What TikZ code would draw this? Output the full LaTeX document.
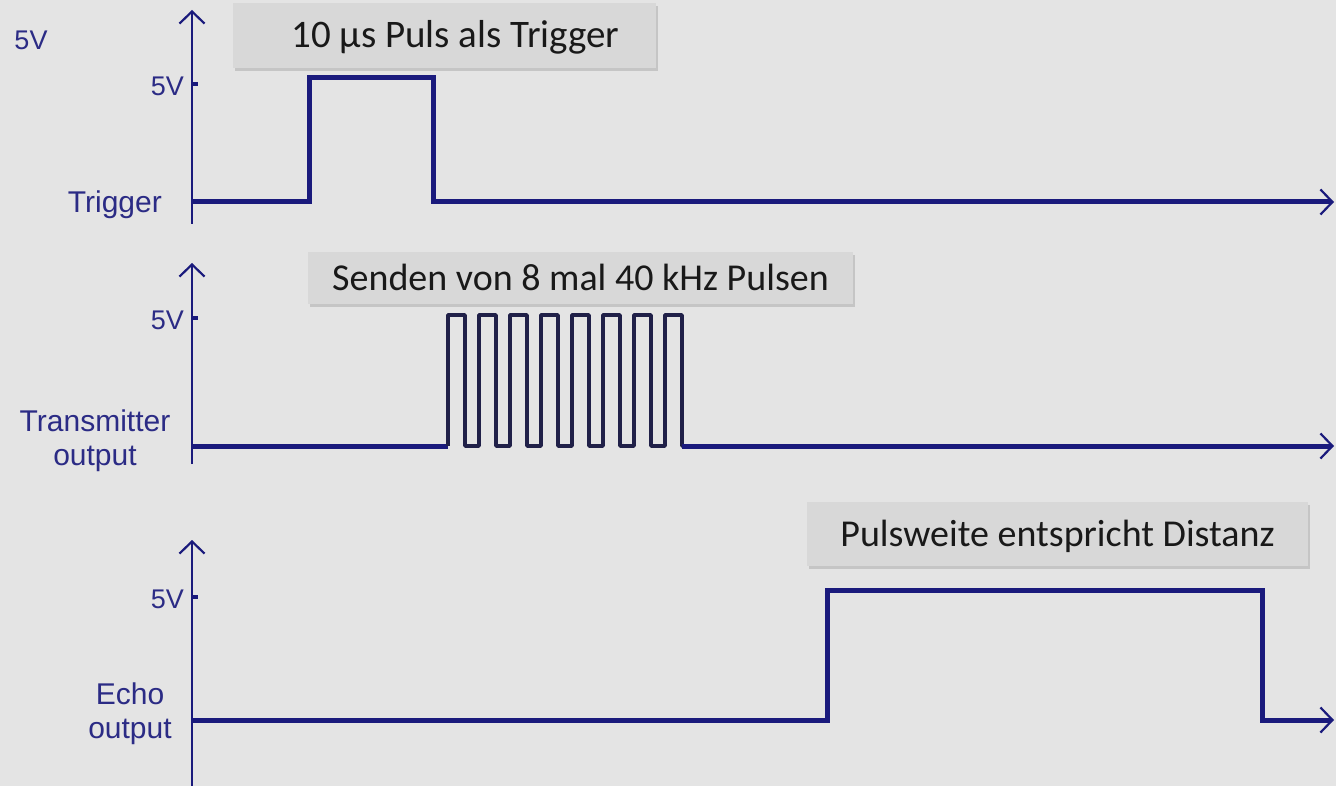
\documentclass[tikz,border=0pt]{standalone}
\usepackage{fontspec}
\setmainfont{Liberation Sans}
\newfontfamily\calloutfont{Carlito}
\usepackage{tikz}
\usetikzlibrary{positioning,calc,arrows.meta,shadows}

\definecolor{bggray}{HTML}{E4E4E4}
\definecolor{boxgray}{HTML}{D8D8D8}
\definecolor{signavy}{HTML}{1A1A7C}
\definecolor{burstnavy}{HTML}{202048}
\definecolor{lblblue}{HTML}{2B2B85}

\begin{document}
\begin{tikzpicture}[x=1pt, y=-1pt, >={Straight Barb[length=12pt, width=25pt, line width=2.2pt]}, axis/.style = {->, draw=signavy, line width=2.2pt}, level/.style = {draw=signavy, line width=5pt, line join=miter}, burst/.style = {draw=burstnavy, line width=3.6pt, line join=round}, tickmark/.style = {draw=signavy, line width=4pt}, siglabel/.style = {text=lblblue, align=center, inner sep=0pt, font=\fontsize{30}{34}\selectfont}, volt/.style = {text=lblblue, inner sep=0pt, font=\fontsize{27}{27}\selectfont}, callout/.style = {fill=boxgray, text=black!90, inner sep=0pt, text height=24.5pt, text depth=0pt, font=\calloutfont\fontsize{38}{40}\selectfont, drop shadow={shadow xshift=2pt, shadow yshift=-3pt, opacity=0.3}}]

\useasboundingbox (0,0) rectangle (1336,786);
\fill[bggray] (0,0) rectangle (1336,786);

\node[volt] (top5v) at (31,40) {5V};

% Trigger
\coordinate (trigtop) at (192,10);
\coordinate (trigbot) at (192,224);
\coordinate (trig0) at (192,202);
\coordinate (trigend) at (1334,202);
\coordinate (trigtick) at (192,84);
\draw[axis] (trigbot) -- (trigtop);
\draw[tickmark] (trigtick) -- ++(6,0);
\draw[level, ->] (trig0) -| (309,78) -| (433,202) -- (trigend);
\node[volt, left=8pt of trigtick, yshift=-2.5pt] (trig5v) {5V};
\node[siglabel, anchor=base east] (trig) at (162,213) {Trigger};
\node[callout, minimum width=423pt, minimum height=65pt] (pulsbox) at (444.5,35.5) {\hspace*{22pt}\fontsize{39}{40}\selectfont 10 µs Puls als Trigger};

% Transmitter
\coordinate (txtop) at (192,263);
\coordinate (txbot) at (192,464);
\coordinate (tx0) at (192,446);
\coordinate (txend) at (1334,446);
\coordinate (txtick) at (192,318);
\draw[axis] (txbot) -- (txtop);
\draw[tickmark] (txtick) -- ++(6,0);
\draw[level] (tx0) -- (448,446);
\draw[burst] (448,446) \foreach \k in {0,...,7} { -- (448+31*\k,315) -- (465+31*\k,315) -- (465+31*\k,446) -- (479+31*\k,446) };
\draw[level, ->] (682,446) -- (txend);
\node[volt, left=8pt of txtick, yshift=-2.5pt] (tx5v) {5V};
\node[siglabel] (tx) at (95,441) {Transmitter\\output};
\node[callout, minimum width=545pt, minimum height=52pt] (sendbox) at (580.5,278) {Senden von 8 mal 40 kHz Pulsen};

% Echo
\coordinate (echotop) at (192,540);
\coordinate (echobot) at (192,786);
\coordinate (echo0) at (192,720);
\coordinate (echoend) at (1334,720);
\coordinate (echotick) at (192,597);
\draw[axis] (echobot) -- (echotop);
\draw[tickmark] (echotick) -- ++(6,0);
\draw[level, ->] (echo0) -| (827,590) -| (1262,720) -- (echoend);
\node[volt, left=8pt of echotick, yshift=-2.5pt] (echo5v) {5V};
\node[siglabel] (echo) at (130,714) {Echo\\output};
\node[callout, minimum width=501pt, minimum height=64pt] (weitebox) at (1057.5,534) {Pulsweite entspricht Distanz};
\end{tikzpicture}
\end{document}
